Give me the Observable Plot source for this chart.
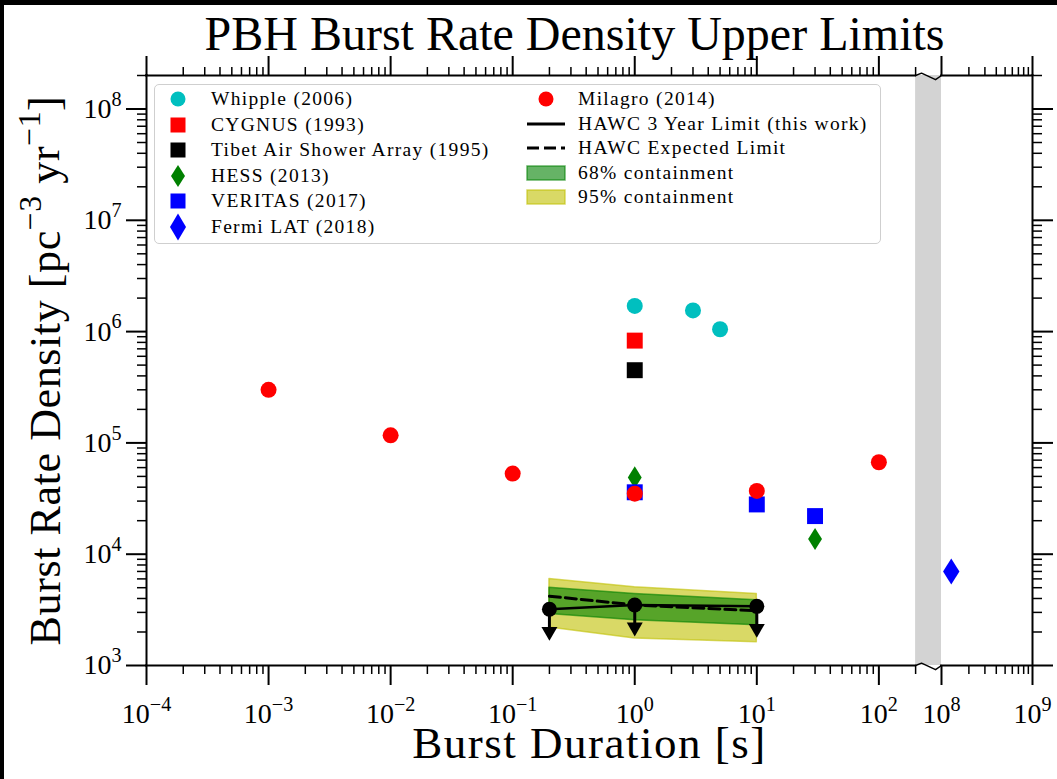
<!DOCTYPE html>
<html><head><meta charset="utf-8">
<script src="https://cdn.jsdelivr.net/npm/d3@7"></script>
<script src="https://cdn.jsdelivr.net/npm/@observablehq/plot@0.6"></script>
<style>
html,body{margin:0;padding:0;background:#fff;}
#wrap{position:relative;width:1057px;height:779px;overflow:hidden;background:#fff;font-family:'Liberation Serif',serif;color:#000;}
#title{position:relative;height:55px;}
#title span{position:absolute;left:0;top:10px;width:1149px;text-align:center;font-size:48px;line-height:48px;white-space:nowrap;}
#plot svg{display:block;}
.strip{position:absolute;background:#000;}
#legend{position:absolute;left:154px;top:84px;width:725px;height:158px;border:1.5px solid #cfcfcf;border-radius:5px;background:rgba(255,255,255,0.85);}
.lt{position:absolute;font-size:19.5px;line-height:20px;letter-spacing:1.3px;white-space:nowrap;}
.li{position:absolute;}
</style></head>
<body>
<div id="wrap">
  <div id="title"><span>PBH Burst Rate Density Upper Limits</span></div>
  <div id="plot"></div>
  <div class="strip" style="left:0;top:0;width:4px;height:779px"></div>
  <div class="strip" style="left:0;top:0;width:1057px;height:5px"></div>
</div>
<script>
// ---------------- data ----------------
const whippleT = [1, 3, 5];
const whippleR = [1.7e6, 1.55e6, 1.05e6];
const cygnusT = [1];
const cygnusR = [8.3e5];
const tibetT = [1];
const tibetR = [4.5e5];
const hessT = [1, 30];
const hessR = [4.9e4, 1.37e4];
const veritasT = [1, 10, 30];
const veritasR = [3.6e4, 2.8e4, 2.2e4];
const fermiT = [1.28e8];
const fermiR = [7.0e3];
const milagroT = [1e-3, 1e-2, 1e-1, 1, 10, 100];
const milagroR = [3.0e5, 1.17e5, 5.3e4, 3.5e4, 3.7e4, 6.7e4];
const hawcT = [0.2, 1, 10];
const hawcLimit = [3.2e3, 3.5e3, 3.4e3];
const hawcExpected = [4.2e3, 3.5e3, 3.1e3];
const band68Lo = [2.9e3, 2.55e3, 2.3e3];
const band68Hi = [5.0e3, 4.4e3, 3.85e3];
const band95Lo = [2.2e3, 1.75e3, 1.62e3];
const band95Hi = [6.0e3, 5.05e3, 4.4e3];

const xMajor = [1e-4, 1e-3, 1e-2, 1e-1, 1, 10, 100, 1e8, 1e9];
const xMajorLabels = ["10^{−4}", "10^{−3}", "10^{−2}", "10^{−1}", "10^{0}", "10^{1}", "10^{2}", "10^{8}", "10^{9}"];
const yMajor = [1e3, 1e4, 1e5, 1e6, 1e7, 1e8];
const yMajorLabels = ["10^{3}", "10^{4}", "10^{5}", "10^{6}", "10^{7}", "10^{8}"];
const xLimits = [1e-4, 1e9];
const xBreak = [200, 1e8];
const yLimits = [1e3, 2e8];

const titleText = "PBH Burst Rate Density Upper Limits";
const xLabel = "Burst Duration [s]";
const yLabel = "Burst Rate Density [pc^{−3} yr^{−1}]";

const legendCol1 = ["Whipple (2006)", "CYGNUS (1993)", "Tibet Air Shower Array (1995)", "HESS (2013)", "VERITAS (2017)", "Fermi LAT (2018)"];
const legendCol2 = ["Milagro (2014)", "HAWC 3 Year Limit (this work)", "HAWC Expected Limit", "68% containment", "95% containment"];

// ---------------- broken log x transform ----------------
const GAP = 0.212, RIGHT = 0.7456;
function bx(t) {
  const l = Math.log10(t), l0 = Math.log10(xBreak[0]);
  if (t <= xBreak[0]) return l;
  return l0 + GAP + (l - Math.log10(xBreak[1])) * RIGHT;
}
const xMinor = [];
for (let e = -4; e <= 2; e++) for (let k = 2; k <= 9; k++) { const v = k * Math.pow(10, e); if (v <= xBreak[0] * 1.0001) xMinor.push(v); }
for (let k = 2; k <= 9; k++) xMinor.push(k * 1e8);
const yMinor = [];
for (let e = 3; e <= 8; e++) for (let k = 2; k <= 9; k++) { const v = k * Math.pow(10, e); if (v <= yLimits[1] * 1.0001) yMinor.push(v); }

const xTickText = new Map(xMajor.map((v, i) => [bx(v), xMajorLabels[i]]));
const yTickText = new Map(yMajor.map((v, i) => [v, yMajorLabels[i]]));

const pts = (T, R) => T.map((t, i) => ({t, r: R[i]}));
const hawc = hawcT.map((t, i) => ({t, lim: hawcLimit[i], exp: hawcExpected[i], lo68: band68Lo[i], hi68: band68Hi[i], lo95: band95Lo[i], hi95: band95Hi[i]}));

const thinDiamond = {draw(ctx, size) { const r = Math.sqrt(size / Math.PI); const h = r * 1.4, w = r * 0.88; ctx.moveTo(0, -h); ctx.lineTo(w, 0); ctx.lineTo(0, h); ctx.lineTo(-w, 0); ctx.closePath(); }};
const downTri = {draw(ctx, size) { const r = Math.sqrt(size / Math.PI); ctx.moveTo(-1.33 * r, -0.77 * r); ctx.lineTo(1.33 * r, -0.77 * r); ctx.lineTo(0, 1.53 * r); ctx.closePath(); }};

const X = d => bx(d.t);
const ARROW = Math.pow(10, -0.2);
const zig = [[0, 0], [0.23, 0.021], [0.77, -0.037], [1, 0]];
const zigLine = (yv) => zig.map(([f, o]) => ({u: bx(xBreak[0]) + f * (bx(xBreak[1]) - bx(xBreak[0])), y: yv * Math.pow(10, o)}));

const plot = Plot.plot({
  width: 1057, height: 724,
  marginTop: 20, marginBottom: 114, marginLeft: 146, marginRight: 25,
  style: {fontFamily: "'Liberation Serif', serif", fontSize: "28px", background: "transparent", color: "#000", overflow: "visible"},
  x: {type: "linear", domain: [bx(xLimits[0]), bx(xLimits[1])]},
  y: {type: "log", domain: yLimits},
  marks: [
    Plot.rect([0], {x1: bx(xBreak[0]), x2: bx(xBreak[1]), y1: yLimits[0], y2: yLimits[1], fill: "#d3d3d3"}),
    // axes
    Plot.axisX({anchor: "bottom", ticks: xMajor.map(bx), tickFormat: u => xTickText.get(u), tickSize: 20, tickPadding: 18, strokeWidth: 2, label: null}),
    Plot.axisX({anchor: "bottom", ticks: xMinor.map(bx), tickFormat: () => "", tickSize: 9, strokeWidth: 1.5, label: null}),
    Plot.axisX({anchor: "top", ticks: xMajor.map(bx), tickFormat: () => "", tickSize: 20, strokeWidth: 2, label: null}),
    Plot.axisX({anchor: "top", ticks: xMinor.map(bx), tickFormat: () => "", tickSize: 9, strokeWidth: 1.5, label: null}),
    Plot.axisY({anchor: "left", ticks: yMajor, tickFormat: v => yTickText.get(v), tickSize: 20, tickPadding: 5, strokeWidth: 2, label: null}),
    Plot.axisY({anchor: "left", ticks: yMinor, tickFormat: () => "", tickSize: 9, strokeWidth: 1.5, label: null}),
    Plot.axisY({anchor: "right", ticks: yMajor, tickFormat: () => "", tickSize: 20, strokeWidth: 2, label: null}),
    Plot.axisY({anchor: "right", ticks: yMinor, tickFormat: () => "", tickSize: 9, strokeWidth: 1.5, label: null}),
    // spines
    Plot.ruleX([bx(xLimits[0]), bx(xLimits[1])], {x: d => d, strokeWidth: 2, strokeLinecap: "square"}),
    Plot.ruleY(yLimits, {y: d => d, x1: bx(xLimits[0]), x2: bx(xBreak[0]), strokeWidth: 2, strokeLinecap: "square"}),
    Plot.ruleY(yLimits, {y: d => d, x1: bx(xBreak[1]), x2: bx(xLimits[1]), strokeWidth: 2, strokeLinecap: "square"}),
    Plot.line(zigLine(yLimits[0]), {x: "u", y: "y", strokeWidth: 1.5}),
    Plot.line(zigLine(yLimits[1]), {x: "u", y: "y", strokeWidth: 1.5}),
    // HAWC bands and lines
    Plot.areaY(hawc, {x: X, y1: "lo95", y2: "hi95", fill: "#bfbf00", fillOpacity: 0.6, stroke: "#bfbf00", strokeOpacity: 0.6, strokeWidth: 1.5}),
    Plot.areaY(hawc, {x: X, y1: "lo68", y2: "hi68", fill: "#008000", fillOpacity: 0.6, stroke: "#008000", strokeOpacity: 0.6, strokeWidth: 1.5}),
    Plot.line(hawc, {x: X, y: "exp", stroke: "#000", strokeWidth: 3, strokeDasharray: "11,5"}),
    Plot.line(hawc, {x: X, y: "lim", stroke: "#000", strokeWidth: 2.5}),
    Plot.ruleX(hawc, {x: X, y1: "lim", y2: d => d.lim * ARROW, stroke: "#000", strokeWidth: 3}),
    Plot.dot(hawc, {x: X, y: d => d.lim * ARROW, symbol: downTri, r: 6, fill: "#000", stroke: null}),
    Plot.dot(hawc, {x: X, y: "lim", r: 7.5, fill: "#000", stroke: null}),
    // other experiments
    Plot.dot(pts(whippleT, whippleR), {x: X, y: "r", r: 8, fill: "#00bfbf", stroke: null}),
    Plot.dot(pts(cygnusT, cygnusR), {x: X, y: "r", symbol: "square", r: 9, fill: "#ff0000", stroke: null}),
    Plot.dot(pts(tibetT, tibetR), {x: X, y: "r", symbol: "square", r: 9, fill: "#000000", stroke: null}),
    Plot.dot(pts(hessT, hessR), {x: X, y: "r", symbol: thinDiamond, r: 7.9, fill: "#008000", stroke: null}),
    Plot.dot(pts(veritasT, veritasR), {x: X, y: "r", symbol: "square", r: 9, fill: "#0000ff", stroke: null}),
    Plot.dot(pts(fermiT, fermiR), {x: X, y: "r", symbol: thinDiamond, r: 9.3, fill: "#0000ff", stroke: null}),
    Plot.dot(pts(milagroT, milagroR), {x: X, y: "r", r: 8, fill: "#ff0000", stroke: null}),
    // axis labels
    Plot.text([xLabel], {frameAnchor: "bottom", dy: 78, text: d => d, fontSize: 45, fill: "#000", textAnchor: "middle", lineAnchor: "middle"}),
    Plot.text([yLabel], {frameAnchor: "left", dx: -101, rotate: -90, text: d => d, fontSize: 44, fill: "#000", textAnchor: "middle", lineAnchor: "middle"})
  ]
});

// superscripts: "a^{b}" -> tspans
const NS = "http://www.w3.org/2000/svg";
function supify(root) {
  root.querySelectorAll("text").forEach(el => {
    const nodes = el.children.length ? Array.from(el.querySelectorAll("tspan")) : [el];
    nodes.forEach(n => {
      const s = n.textContent;
      if (!s.includes("^{")) return;
      n.textContent = "";
      const re = /\^\{([^}]*)\}/g;
      let last = 0, m, raised = false;
      const addPlain = (str) => {
        if (!str) return;
        const t = document.createElementNS(NS, "tspan");
        if (raised) { t.setAttribute("dy", "0.42em"); raised = false; }
        t.textContent = str; n.appendChild(t);
      };
      while ((m = re.exec(s))) {
        addPlain(s.slice(last, m.index));
        const sup = document.createElementNS(NS, "tspan");
        sup.setAttribute("font-size", "72%");
        sup.setAttribute("dy", "-0.6em");
        sup.textContent = m[1];
        n.appendChild(sup);
        raised = true;
        last = re.lastIndex;
      }
      addPlain(s.slice(last));
    });
  });
}
supify(plot);
document.getElementById("plot").appendChild(plot);

// label letter spacing
plot.querySelectorAll("text").forEach(t => {
  if (t.textContent === xLabel) t.setAttribute("letter-spacing", "1.5px");
  if (t.textContent.startsWith("Burst Rate")) t.setAttribute("letter-spacing", "0.6px");
});

// ---------------- legend (HTML overlay) ----------------
const wrap = document.getElementById("wrap");
const legendBox = document.createElement("div");
legendBox.id = "legend";
wrap.appendChild(legendBox);

function icon(cx, cy, svgInner) {
  const d = document.createElement("div");
  d.className = "li";
  d.style.left = (cx - 25) + "px";
  d.style.top = (cy - 16) + "px";
  d.innerHTML = `<svg width="50" height="32" viewBox="-25 -16 50 32" style="display:block">${svgInner}</svg>`;
  wrap.appendChild(d);
}
function label(x, cy, txt) {
  const s = document.createElement("div");
  s.className = "lt";
  s.style.left = x + "px";
  s.style.top = (cy - 10) + "px";
  s.textContent = txt;
  wrap.appendChild(s);
}
const sq = c => `<rect x="-7.5" y="-7.5" width="15" height="15" fill="${c}"/>`;
const dia = (c, w, h) => `<path d="M0,${-h} L${w},0 L0,${h} L${-w},0 Z" fill="${c}"/>`;
const icons1 = [
  `<circle r="7.5" fill="#00bfbf"/>`,
  sq("#ff0000"), sq("#000000"),
  dia("#008000", 7, 11), sq("#0000ff"), dia("#0000ff", 8, 13.5)
];
const icons2 = [
  `<circle r="7.5" fill="#ff0000"/>`,
  `<line x1="-19" x2="19" y1="0" y2="0" stroke="#000" stroke-width="3"/>`,
  `<line x1="-19" x2="19" y1="0" y2="0" stroke="#000" stroke-width="3" stroke-dasharray="12,5"/>`,
  `<rect x="-19" y="-7" width="38" height="14" fill="#008000" fill-opacity="0.6" stroke="#008000" stroke-opacity="0.6" stroke-width="1.5"/>`,
  `<rect x="-19" y="-7" width="38" height="14" fill="#bfbf00" fill-opacity="0.6" stroke="#bfbf00" stroke-opacity="0.6" stroke-width="1.5"/>`
];
legendCol1.forEach((txt, i) => { const cy = 99 + i * 25.5; icon(178.3, cy, icons1[i]); label(211, cy, txt); });
legendCol2.forEach((txt, i) => { const cy = 99 + i * 24.6; icon(546, cy, icons2[i]); label(578, cy, txt); });
</script>
</body></html>
